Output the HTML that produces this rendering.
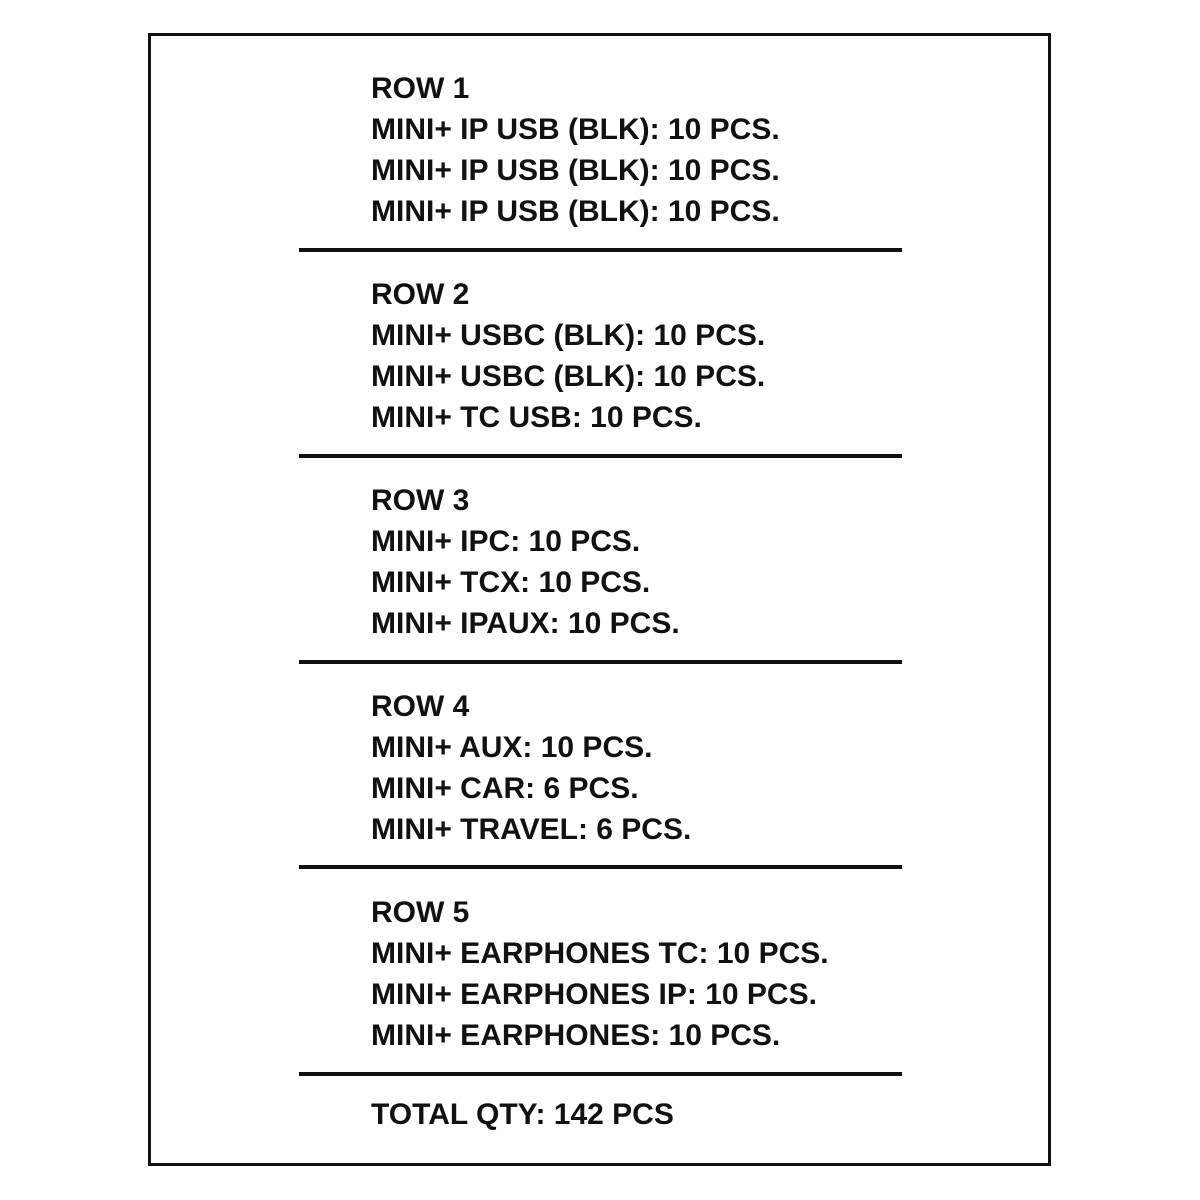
<!DOCTYPE html>
<html><head><style>
body{margin:0;width:1200px;height:1200px;background:#fff;position:relative;font-family:"Liberation Sans",sans-serif;font-weight:bold;font-size:30px;color:#111}
.box{position:absolute;left:148px;top:33px;width:897px;height:1127px;border:3px solid #111}
.hr{position:absolute;left:299px;width:603px;height:4px;background:#111}
.t{position:absolute;left:371px;line-height:41px;white-space:pre}
</style></head><body>
<div class="box"></div>
<div class="t" style="top:68px">ROW 1
MINI+ IP USB (BLK): 10 PCS.
MINI+ IP USB (BLK): 10 PCS.
MINI+ IP USB (BLK): 10 PCS.</div>
<div class="hr" style="top:248px"></div>
<div class="t" style="top:274px">ROW 2
MINI+ USBC (BLK): 10 PCS.
MINI+ USBC (BLK): 10 PCS.
MINI+ TC USB: 10 PCS.</div>
<div class="hr" style="top:454px"></div>
<div class="t" style="top:480px">ROW 3
MINI+ IPC: 10 PCS.
MINI+ TCX: 10 PCS.
MINI+ IPAUX: 10 PCS.</div>
<div class="hr" style="top:660px"></div>
<div class="t" style="top:686px">ROW 4
MINI+ AUX: 10 PCS.
MINI+ CAR: 6 PCS.
MINI+ TRAVEL: 6 PCS.</div>
<div class="hr" style="top:865px"></div>
<div class="t" style="top:892px">ROW 5
MINI+ EARPHONES TC: 10 PCS.
MINI+ EARPHONES IP: 10 PCS.
MINI+ EARPHONES: 10 PCS.</div>
<div class="hr" style="top:1072px"></div>
<div class="t" style="top:1094px">TOTAL QTY: 142 PCS</div>
</body></html>
